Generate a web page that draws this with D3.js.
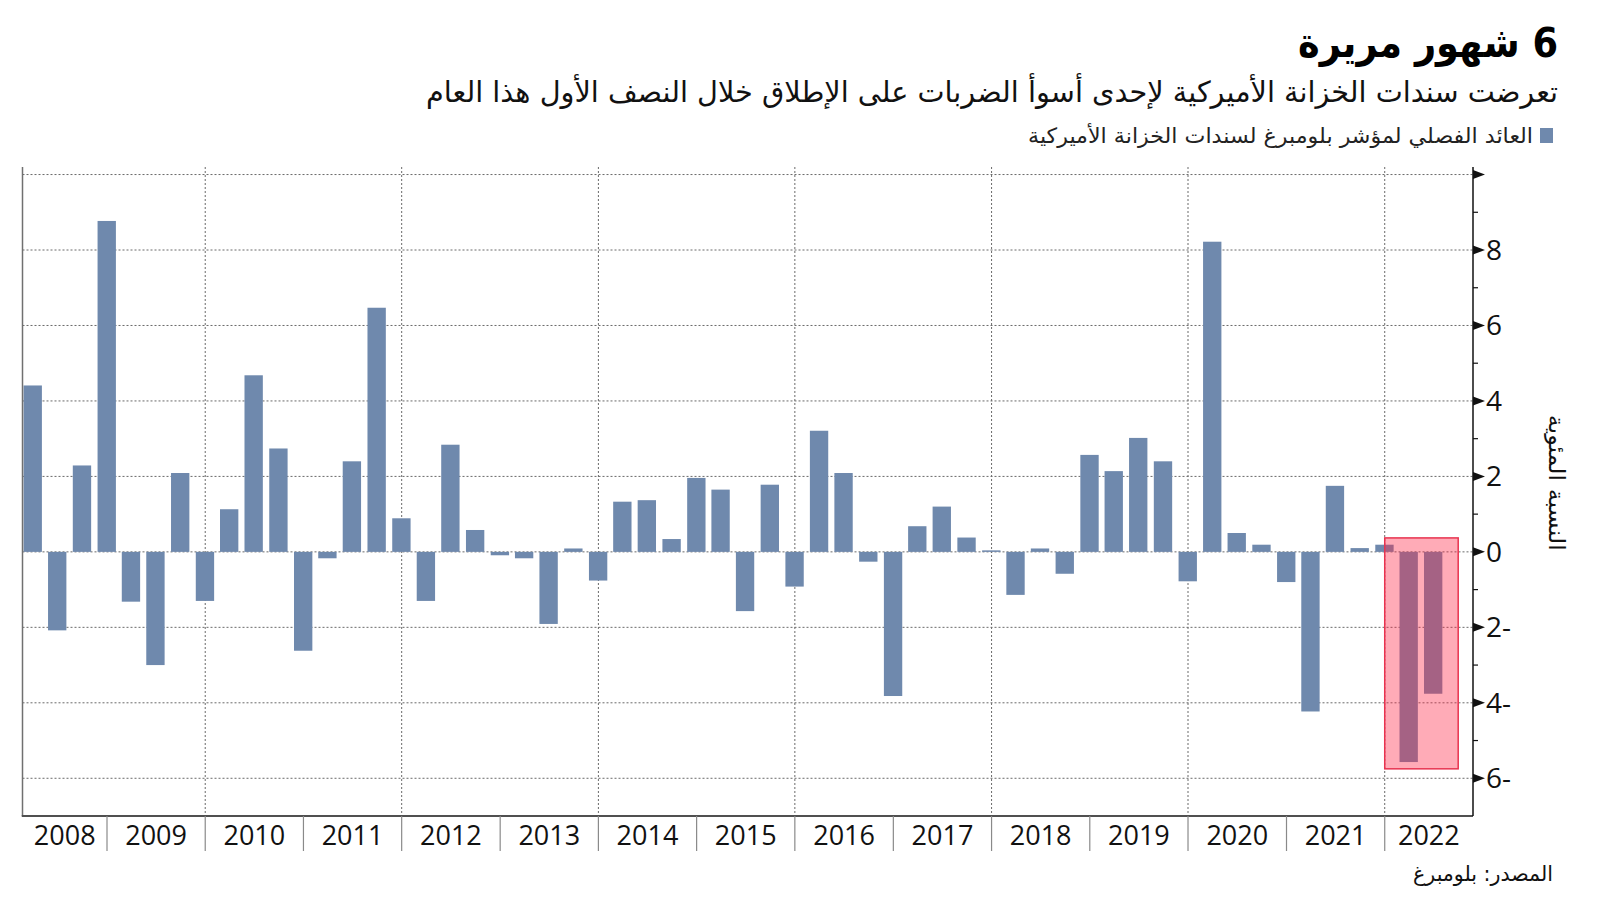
<!DOCTYPE html>
<html>
<head>
<meta charset="utf-8">
<script src="https://cdn.jsdelivr.net/npm/d3@7"></script>
<style>
  html, body { margin: 0; padding: 0; background: #ffffff; }
  svg { display: block; }
</style>
</head>
<body>
<svg id="chart" width="1600" height="901"></svg>
<script>
// ---------------- DATA ----------------
const titleText = "6 شهور مريرة";
const subtitleText = "تعرضت سندات الخزانة الأميركية لإحدى أسوأ الضربات على الإطلاق خلال النصف الأول هذا العام";
const legendText = "العائد الفصلي لمؤشر بلومبرغ لسندات الخزانة الأميركية";
const sourceText = "المصدر: بلومبرغ";
const yAxisTitle = "النسبة المئوية";

const quarters = [
  "2008-Q1","2008-Q2","2008-Q3","2008-Q4",
  "2009-Q1","2009-Q2","2009-Q3","2009-Q4",
  "2010-Q1","2010-Q2","2010-Q3","2010-Q4",
  "2011-Q1","2011-Q2","2011-Q3","2011-Q4",
  "2012-Q1","2012-Q2","2012-Q3","2012-Q4",
  "2013-Q1","2013-Q2","2013-Q3","2013-Q4",
  "2014-Q1","2014-Q2","2014-Q3","2014-Q4",
  "2015-Q1","2015-Q2","2015-Q3","2015-Q4",
  "2016-Q1","2016-Q2","2016-Q3","2016-Q4",
  "2017-Q1","2017-Q2","2017-Q3","2017-Q4",
  "2018-Q1","2018-Q2","2018-Q3","2018-Q4",
  "2019-Q1","2019-Q2","2019-Q3","2019-Q4",
  "2020-Q1","2020-Q2","2020-Q3","2020-Q4",
  "2021-Q1","2021-Q2","2021-Q3","2021-Q4",
  "2022-Q1","2022-Q2"
];
const returns = [
  4.41, -2.08, 2.29, 8.77,
  -1.32, -3.00, 2.09, -1.30,
  1.13, 4.68, 2.74, -2.62,
  -0.17, 2.40, 6.47, 0.89,
  -1.30, 2.84, 0.58, -0.09,
  -0.17, -1.91, 0.09, -0.76,
  1.33, 1.37, 0.34, 1.96,
  1.65, -1.57, 1.78, -0.92,
  3.21, 2.09, -0.26, -3.82,
  0.68, 1.20, 0.38, 0.04,
  -1.14, 0.09, -0.58, 2.57,
  2.14, 3.02, 2.40, -0.78,
  8.22, 0.50, 0.19, -0.80,
  -4.23, 1.75, 0.10, 0.19,
  -5.57, -3.76
];
const yearLabels = ["2008","2009","2010","2011","2012","2013","2014","2015","2016","2017","2018","2019","2020","2021","2022"];
const gridYears = [2010, 2012, 2014, 2016, 2018, 2020, 2022];
const yMajorTicks = [-6, -4, -2, 0, 2, 4, 6, 8, 10];
const yMinorTicks = [-5, -3, -1, 1, 3, 5, 7, 9];
const yTickLabels = ["6-", "4-", "2-", "0", "2", "4", "6", "8", ""];
const xDomain = ["2008-02-22", "2022-11-25"];
const yDomain = [-7, 10.2];
const highlightX = ["2022-01-01", "2022-10-01"];
const highlightY = [-5.75, 0.37];

// ---------------- LAYOUT ----------------
const plotL = 22.5, plotR = 1473, plotT = 167, plotB = 816;
const barColor = "#6f89ad";
const numFont = "'Open Sans', 'DejaVu Sans', sans-serif";
const arFont = "'DejaVu Sans', sans-serif";

const svg = d3.select("#chart");
const parse = d3.timeParse("%Y-%m-%d");

const x = d3.scaleTime().domain(xDomain.map(parse)).range([plotL, plotR]);
const y = d3.scaleLinear().domain(yDomain).range([plotB, plotT]);

const data = quarters.map((q, i) => {
  const yr = +q.slice(0, 4), qn = +q.slice(6);
  return { q, year: yr, qn, date: new Date(yr, qn * 3, 0), value: returns[i] };
});
const yearW = x(new Date(2009, 0, 1)) - x(new Date(2008, 0, 1));
const barW = yearW / 4 * 0.745;

// horizontal dotted gridlines
svg.append("g").selectAll("line").data(yMajorTicks).join("line")
  .attr("x1", plotL).attr("x2", plotR)
  .attr("y1", d => y(d)).attr("y2", d => y(d))
  .attr("stroke", "#6a6a6a").attr("stroke-width", 1)
  .attr("stroke-dasharray", "2,2");

// vertical dotted gridlines
svg.append("g").selectAll("line").data(gridYears).join("line")
  .attr("x1", d => x(new Date(d, 0, 1))).attr("x2", d => x(new Date(d, 0, 1)))
  .attr("y1", plotT).attr("y2", plotB)
  .attr("stroke", "#6a6a6a").attr("stroke-width", 1)
  .attr("stroke-dasharray", "2,2");

// bars
svg.append("g").selectAll("rect").data(data).join("rect")
  .attr("x", d => x(d.date) - barW / 2)
  .attr("width", barW)
  .attr("y", d => y(Math.max(0, d.value)))
  .attr("height", d => Math.abs(y(d.value) - y(0)))
  .attr("fill", barColor);

// highlight box
svg.append("rect")
  .attr("x", x(parse(highlightX[0])))
  .attr("width", x(parse(highlightX[1])) - x(parse(highlightX[0])))
  .attr("y", y(highlightY[1]))
  .attr("height", y(highlightY[0]) - y(highlightY[1]))
  .attr("fill", "rgb(255,34,66)").attr("fill-opacity", 0.38)
  .attr("stroke", "#e8334f").attr("stroke-width", 1.5);

// left axis line
svg.append("line").attr("x1", plotL).attr("x2", plotL).attr("y1", plotT).attr("y2", plotB)
  .attr("stroke", "#707070").attr("stroke-width", 1.5);

// bottom axis
svg.append("line").attr("x1", plotL - 0.75).attr("x2", plotR).attr("y1", plotB).attr("y2", plotB)
  .attr("stroke", "#505050").attr("stroke-width", 2);

// year separators
const yearBounds = yearLabels.slice(1).map(d => x(new Date(+d, 0, 1)));
svg.append("g").selectAll("line").data(yearBounds).join("line")
  .attr("x1", d => d).attr("x2", d => d)
  .attr("y1", plotB).attr("y2", plotB + 35)
  .attr("stroke", "#8a8a8a").attr("stroke-width", 1.2);

// year labels
svg.append("g").selectAll("text").data(yearLabels).join("text")
  .attr("x", d => {
    const a = Math.max(plotL, x(new Date(+d, 0, 1)));
    const b = Math.min(plotR, x(new Date(+d + 1, 0, 1)));
    return (a + b) / 2;
  })
  .attr("y", plotB + 29)
  .attr("text-anchor", "middle")
  .attr("font-family", numFont).attr("font-size", 27)
  .attr("fill", "#111")
  .text(d => d);

// right axis
const ra = svg.append("g");
ra.append("line").attr("x1", plotR).attr("x2", plotR).attr("y1", plotT).attr("y2", plotB)
  .attr("stroke", "#111").attr("stroke-width", 1.5);
ra.selectAll("path.tri").data(yMajorTicks).join("path").attr("class", "tri")
  .attr("d", d => `M${plotR},${y(d) - 4.5}L${plotR + 12},${y(d)}L${plotR},${y(d) + 4.5}Z`)
  .attr("fill", "#111");
ra.selectAll("line.minor").data(yMinorTicks).join("line").attr("class", "minor")
  .attr("x1", plotR).attr("x2", plotR + 5)
  .attr("y1", d => y(d)).attr("y2", d => y(d))
  .attr("stroke", "#111").attr("stroke-width", 1.2);
ra.selectAll("text").data(yMajorTicks).join("text")
  .attr("x", plotR + 13)
  .attr("y", d => y(d) + 10)
  .attr("font-family", numFont).attr("font-size", 28)
  .attr("fill", "#111")
  .text((d, i) => yTickLabels[i]);

// y axis title
svg.append("text")
  .attr("transform", `translate(1549,${y(1.83)}) rotate(90)`)
  .attr("text-anchor", "middle")
  .attr("font-family", arFont).attr("font-size", 22)
  .attr("textLength", 136).attr("lengthAdjust", "spacingAndGlyphs")
  .attr("fill", "#111")
  .style("direction", "rtl")
  .text(yAxisTitle);

// title
svg.append("text")
  .attr("x", 1558).attr("y", 57)
  .attr("text-anchor", "start")
  .style("direction", "rtl")
  .attr("font-family", arFont).attr("font-size", 41).attr("font-weight", "bold")
  .attr("textLength", 260).attr("lengthAdjust", "spacingAndGlyphs")
  .attr("fill", "#000")
  .text(titleText);

// subtitle
svg.append("text")
  .attr("x", 1558).attr("y", 102)
  .attr("text-anchor", "start")
  .style("direction", "rtl")
  .attr("font-family", arFont).attr("font-size", 29)
  .attr("textLength", 1132).attr("lengthAdjust", "spacingAndGlyphs")
  .attr("fill", "#111")
  .text(subtitleText);

// legend
svg.append("rect").attr("x", 1540).attr("y", 128).attr("width", 13).attr("height", 15)
  .attr("fill", barColor);
svg.append("text")
  .attr("x", 1533).attr("y", 143)
  .attr("text-anchor", "start")
  .style("direction", "rtl")
  .attr("font-family", arFont).attr("font-size", 21)
  .attr("textLength", 505).attr("lengthAdjust", "spacingAndGlyphs")
  .attr("fill", "#222")
  .text(legendText);

// source
svg.append("text")
  .attr("x", 1553).attr("y", 881)
  .attr("text-anchor", "start")
  .style("direction", "rtl")
  .attr("font-family", arFont).attr("font-size", 21)
  .attr("textLength", 140).attr("lengthAdjust", "spacingAndGlyphs")
  .attr("fill", "#111")
  .text(sourceText);
</script>
</body>
</html>
